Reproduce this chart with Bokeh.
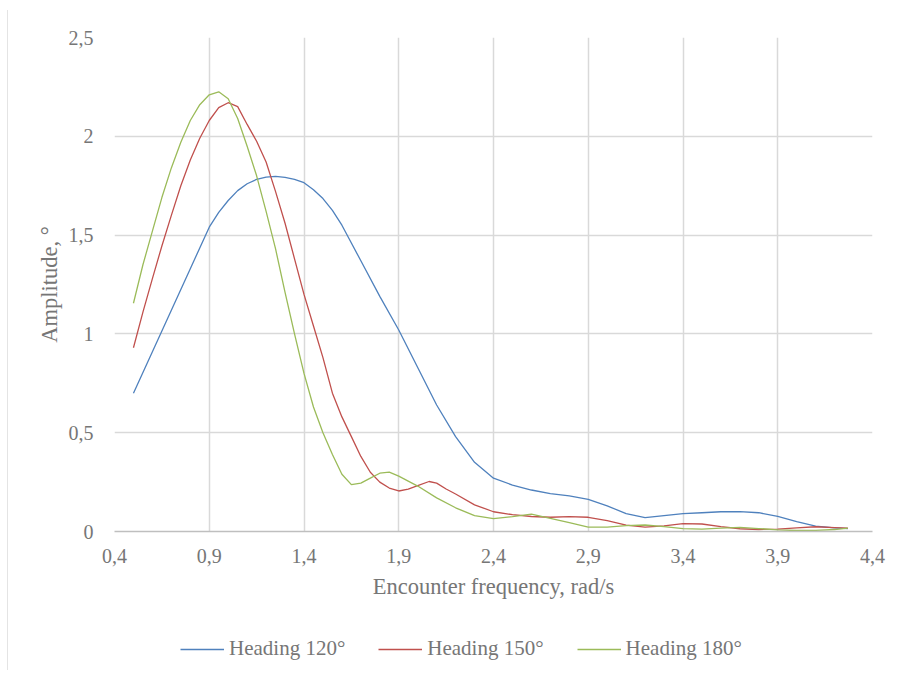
from bokeh.plotting import figure
from bokeh.models import (Range1d, FixedTicker, CustomJSTickFormatter, Legend, LegendItem)
from bokeh.layouts import column
from bokeh.embed import file_html
from bokeh.resources import INLINE

# ---- data ----
x120 = [0.5, 0.6, 0.7, 0.8, 0.9, 0.95, 1.0, 1.05, 1.1, 1.15, 1.2, 1.25, 1.3, 1.35, 1.4, 1.45, 1.5, 1.55,
        1.6, 1.7, 1.8, 1.9, 2.0, 2.1, 2.2, 2.3, 2.4, 2.5, 2.6, 2.7, 2.8, 2.9, 3.0, 3.1, 3.2, 3.3,
        3.4, 3.5, 3.6, 3.7, 3.8, 3.9, 4.0, 4.1, 4.2, 4.27]
y120 = [0.70, 0.91, 1.12, 1.33, 1.54, 1.615, 1.675, 1.725, 1.76, 1.782, 1.793, 1.797, 1.792, 1.782, 1.765, 1.73, 1.685, 1.625,
        1.55, 1.37, 1.19, 1.02, 0.83, 0.64, 0.48, 0.35, 0.27, 0.235, 0.21, 0.192, 0.18, 0.163, 0.13, 0.09, 0.07, 0.08,
        0.09, 0.095, 0.10, 0.101, 0.095, 0.076, 0.05, 0.027, 0.018, 0.015]

x150 = [0.5, 0.55, 0.6, 0.65, 0.7, 0.75, 0.8, 0.85, 0.9, 0.95, 1.0, 1.05, 1.1, 1.15, 1.2, 1.25, 1.3, 1.35,
        1.4, 1.45, 1.5, 1.55, 1.6, 1.65, 1.7, 1.75, 1.8, 1.85, 1.9, 1.95, 2.0, 2.06, 2.1, 2.15, 2.2, 2.3,
        2.4, 2.5, 2.6, 2.7, 2.8, 2.9, 3.0, 3.1, 3.2, 3.3, 3.4, 3.5, 3.6, 3.7, 3.8, 3.9, 4.0, 4.1, 4.2, 4.27]
y150 = [0.93, 1.11, 1.28, 1.445, 1.60, 1.75, 1.88, 1.99, 2.08, 2.145, 2.17, 2.15, 2.06, 1.975, 1.87, 1.72, 1.56, 1.38,
        1.20, 1.04, 0.88, 0.70, 0.58, 0.48, 0.38, 0.30, 0.25, 0.22, 0.205, 0.215, 0.232, 0.253, 0.245, 0.215, 0.19, 0.135,
        0.10, 0.085, 0.076, 0.072, 0.075, 0.072, 0.055, 0.032, 0.022, 0.028, 0.04, 0.038, 0.025, 0.014, 0.01, 0.012,
        0.018, 0.024, 0.02, 0.017]

x180 = [0.5, 0.55, 0.6, 0.65, 0.7, 0.75, 0.8, 0.85, 0.9, 0.95, 1.0, 1.05, 1.1, 1.15, 1.2, 1.25, 1.3, 1.35,
        1.4, 1.45, 1.5, 1.55, 1.6, 1.65, 1.7, 1.75, 1.8, 1.85, 1.9, 1.95, 2.0, 2.1, 2.2, 2.3, 2.4, 2.5,
        2.6, 2.7, 2.8, 2.9, 3.0, 3.1, 3.2, 3.3, 3.4, 3.5, 3.6, 3.7, 3.8, 3.9, 4.0, 4.1, 4.2, 4.27]
y180 = [1.155, 1.35, 1.52, 1.69, 1.84, 1.97, 2.08, 2.16, 2.21, 2.225, 2.19, 2.09, 1.95, 1.80, 1.62, 1.43, 1.21, 1.00,
        0.80, 0.63, 0.50, 0.39, 0.29, 0.237, 0.245, 0.27, 0.295, 0.30, 0.28, 0.255, 0.23, 0.17, 0.12, 0.08, 0.065, 0.075,
        0.088, 0.067, 0.045, 0.022, 0.022, 0.03, 0.033, 0.025, 0.015, 0.012, 0.017, 0.021, 0.015, 0.008, 0.005, 0.006,
        0.01, 0.017]

labels = ["Heading 120°", "Heading 150°", "Heading 180°"]
colors = ["#4F81BD", "#C0504D", "#9BBB59"]
x_ticks = [0.4, 0.9, 1.4, 1.9, 2.4, 2.9, 3.4, 3.9, 4.4]
y_ticks = [0, 0.5, 1, 1.5, 2, 2.5]

FONT = "Liberation Serif"
TXT = "#767676"

p = figure(width=886, height=602, output_backend="svg", toolbar_location=None,
           x_range=Range1d(0.4, 4.4), y_range=Range1d(0, 2.5),
           min_border_left=106, min_border_right=22, min_border_top=27, min_border_bottom=81)
p.outline_line_color = None
p.background_fill_color = "white"

fmt = CustomJSTickFormatter(code="var s = (Math.round(tick*10)/10).toString(); return s.replace('.', ',');")

p.xaxis.ticker = FixedTicker(ticks=x_ticks)
p.yaxis.ticker = FixedTicker(ticks=y_ticks)
p.xaxis.formatter = fmt
p.yaxis.formatter = fmt
p.xgrid.ticker = FixedTicker(ticks=x_ticks)
p.ygrid.ticker = FixedTicker(ticks=y_ticks)
p.xgrid.grid_line_color = "#d9d9d9"
p.ygrid.grid_line_color = "#d9d9d9"
p.xgrid.grid_line_width = 1.5
p.ygrid.grid_line_width = 1.5

for ax in (p.xaxis, p.yaxis):
    ax.major_tick_line_color = None
    ax.minor_tick_line_color = None
    ax.major_label_text_font = FONT
    ax.major_label_text_font_size = "20px"
    ax.major_label_text_color = TXT
    ax.axis_label_text_font = FONT
    ax.axis_label_text_font_size = "22.5px"
    ax.axis_label_text_color = TXT
    ax.axis_label_text_font_style = "normal"

p.xaxis.axis_line_color = "#bfbfbf"
p.xaxis.axis_line_width = 1.5
p.yaxis.axis_line_color = None
p.xaxis.major_label_standoff = 11
p.yaxis.major_label_standoff = 15
p.xaxis.axis_label = "Encounter frequency, rad/s"
p.yaxis.axis_label = "Amplitude, °"
p.xaxis.axis_label_standoff = 8
p.yaxis.axis_label_standoff = 4

p.line(x120, y120, line_color=colors[0], line_width=1.3)
p.line(x150, y150, line_color=colors[1], line_width=1.3)
p.line(x180, y180, line_color=colors[2], line_width=1.3)

# legend strip below the chart
lg = figure(width=886, height=58, output_backend="svg", toolbar_location=None,
            x_range=Range1d(0, 1), y_range=Range1d(0, 1),
            x_axis_type=None, y_axis_type=None, min_border=0)
lg.outline_line_color = None
lg.xgrid.visible = False
lg.ygrid.visible = False
lr = [lg.line([-5, -4], [-5, -4], line_color=c, line_width=1.3) for c in colors]
legend = Legend(items=[LegendItem(label=labels[i], renderers=[lr[i]]) for i in range(3)],
                orientation="horizontal", location=(66, 9), padding=5,
                label_text_font=FONT, label_text_font_size="21px", label_text_color=TXT,
                glyph_width=44, label_standoff=5, spacing=33,
                border_line_color=None, background_fill_alpha=0)
lg.add_layout(legend, "center")

layout = column(p, lg, spacing=0,
                styles={"border-left": "1px solid #e4e4e4", "margin-left": "7px", "margin-top": "10px"})

open("out.html", "w").write(file_html(layout, INLINE))
